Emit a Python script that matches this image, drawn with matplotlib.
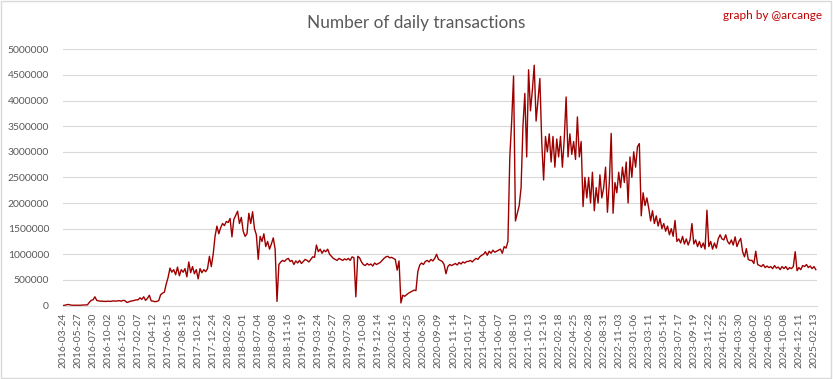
import numpy as np
import matplotlib
matplotlib.use("Agg")
from matplotlib import pyplot as plt
from matplotlib.patches import Rectangle

plt.rcParams['font.family'] = ['Lato', 'DejaVu Sans']

# x axis labels, one every 64 days (Excel category axis)
tick_labels = [
    "2016-03-24", "2016-05-27", "2016-07-30", "2016-10-02", "2016-12-05",
    "2017-02-07", "2017-04-12", "2017-06-15", "2017-08-18", "2017-10-21",
    "2017-12-24", "2018-02-26", "2018-05-01", "2018-07-04", "2018-09-08",
    "2018-11-16", "2019-01-19", "2019-03-24", "2019-05-27", "2019-07-30",
    "2019-10-08", "2019-12-14", "2020-02-16", "2020-04-25", "2020-06-30",
    "2020-09-09", "2020-11-14", "2021-01-17", "2021-04-04", "2021-06-07",
    "2021-08-10", "2021-10-13", "2021-12-16", "2022-02-18", "2022-04-25",
    "2022-06-28", "2022-08-31", "2022-11-03", "2023-01-06", "2023-03-11",
    "2023-05-14", "2023-07-17", "2023-09-19", "2023-11-22", "2024-01-25",
    "2024-03-30", "2024-06-02", "2024-08-05", "2024-10-08", "2024-12-11",
    "2025-02-13",
]
days_per_label = 64
n_days = 3213

# daily transactions (thousands), every 8 days
sample_step = 8
tx_k = [
    0, 5, 15, 20, 10, 5, 5, 5,                          # 2016-03-24
    5, 5, 8, 10, 10, 12, 60, 100,                       # 2016-05-27
    110, 170, 100, 90, 85, 85, 80, 80,                  # 2016-07-30
    85, 80, 85, 90, 85, 90, 95, 85,                     # 2016-10-02
    100, 95, 60, 70, 85, 90, 100, 110,                  # 2016-12-05
    110, 150, 120, 170, 100, 140, 200, 90,              # 2017-02-07
    85, 75, 80, 95, 210, 240, 260, 420,                 # 2017-04-12
    550, 730, 650, 700, 600, 750, 580, 700,             # 2017-06-15
    650, 720, 560, 850, 640, 760, 620, 700,             # 2017-08-18
    520, 720, 640, 700, 660, 720, 960, 760,             # 2017-10-21
    1000, 1350, 1550, 1400, 1520, 1600, 1560, 1640,     # 2017-12-24
    1620, 1700, 1340, 1680, 1760, 1840, 1600, 1720,     # 2018-02-26
    1450, 1350, 1400, 1800, 1600, 1830, 1500, 1380,     # 2018-05-01
    900, 1350, 1250, 1400, 1150, 1250, 1100, 1200,      # 2018-07-04
    1320, 1100, 80, 800, 850, 880, 860, 900,            # 2018-09-08
    920, 860, 880, 800, 870, 830, 880, 820,             # 2018-11-16
    860, 900, 880, 850, 900, 950, 940, 1180,            # 2019-01-19
    1050, 1100, 1020, 1080, 1050, 1100, 1000, 960,      # 2019-03-24
    920, 900, 880, 920, 900, 880, 910, 890,             # 2019-05-27
    920, 880, 950, 930, 170, 960, 930, 850,             # 2019-07-30
    800, 780, 820, 790, 810, 770, 830, 800,             # 2019-10-08
    820, 840, 880, 920, 950, 960, 930, 940,             # 2019-12-14
    920, 900, 690, 870, 50, 200, 180, 210,              # 2020-02-16
    240, 260, 280, 300, 290, 660, 790, 830,             # 2020-04-25
    800, 860, 880, 850, 900, 870, 920, 1000,            # 2020-06-30
    900, 880, 860, 800, 620, 760, 800, 780,             # 2020-09-09
    800, 820, 790, 840, 810, 850, 830, 860,             # 2020-11-14
    860, 880, 850, 890, 920, 900, 950, 980,             # 2021-01-17
    1000, 1050, 980, 1060, 1020, 1080, 1040, 1060,      # 2021-04-04
    1080, 1100, 1020, 1150, 1120, 1250, 2900, 3600,     # 2021-06-07
    4480, 1650, 1800, 1950, 2300, 3500, 4140, 2900,     # 2021-08-10
    4600, 3800, 4200, 4690, 3600, 4000, 4430, 3200,     # 2021-10-13
    2450, 3300, 3000, 3350, 2800, 3300, 2700, 3250,     # 2021-12-16
    2900, 3300, 2700, 3250, 4070, 2900, 3350, 2950,     # 2022-02-18
    3200, 2850, 3680, 2900, 3200, 1930, 2500, 2100,     # 2022-04-25
    2500, 2000, 2600, 1850, 2300, 2000, 2550, 2100,     # 2022-06-28
    2300, 2700, 1820, 2400, 3360, 1800, 2400, 2200,     # 2022-08-31
    2600, 2300, 2700, 2400, 2800, 2000, 2900, 2500,     # 2022-11-03
    3000, 2700, 3100, 3160, 1750, 2200, 1950, 2100,     # 2023-01-06
    1900, 1650, 1850, 1600, 1750, 1550, 1700, 1500,     # 2023-03-11
    1600, 1450, 1550, 1380, 1500, 1350, 1660, 1250,     # 2023-05-14
    1300, 1220, 1350, 1200, 1300, 1180, 1280, 1600,     # 2023-07-17
    1200, 1280, 1150, 1250, 1130, 1220, 1100, 1860,     # 2023-09-19
    1150, 1250, 1100, 1220, 1120, 1300, 1380, 1300,     # 2023-11-22
    1280, 1380, 1250, 1200, 1280, 1180, 1340, 1150,     # 2024-01-25
    1250, 1310, 1050, 950, 1110, 900, 880, 880,         # 2024-03-30
    820, 1060, 800, 780, 760, 800, 740, 770,            # 2024-06-02
    740, 760, 720, 780, 730, 750, 700, 760,             # 2024-08-05
    720, 760, 700, 740, 720, 760, 1050, 680,            # 2024-10-08
    740, 700, 780, 760, 800, 740, 770, 720,             # 2024-12-11
    760, 700,                                           # 2025-02-13
]

tx = np.array(tx_k) * 1000
day = np.arange(len(tx)) * sample_step

fig = plt.figure(figsize=(8.33, 3.79), dpi=100)
ax = fig.add_axes([0.0756, 0.1939, 0.9052, 0.676])

ax.plot(day, tx, color='#9e0000', lw=1.0)

ax.set_xlim(0, n_days)
ax.set_ylim(0, 5000000)
ax.set_yticks(np.arange(0, 5000001, 500000))
ax.set_yticklabels([str(v) for v in range(0, 5000001, 500000)])
ax.set_xticks(np.arange(len(tick_labels)) * days_per_label)
ax.set_xticklabels(tick_labels, rotation=90)

ax.grid(axis='y', color='#d9d9d9', lw=0.8)
ax.set_axisbelow(True)
for side in ['top', 'right', 'left']:
    ax.spines[side].set_visible(False)
ax.spines['bottom'].set_color('#d9d9d9')
ax.tick_params(axis='both', length=0, labelsize=7.5, labelcolor='#595959')
ax.tick_params(axis='y', pad=10)
ax.tick_params(axis='x', pad=5)

fig.text(0.5, 0.939, "Number of daily transactions", ha='center', va='center',
         fontsize=12.4, color='#595959')
fig.text(0.987, 0.96, "graph by @arcange", ha='right', va='center',
         fontsize=8.5, color='#c00000')

fig.patches.append(Rectangle((0.001, 0.002), 0.997, 0.995, transform=fig.transFigure,
                             fill=False, ec='#d9d9d9', lw=1))

fig.savefig("out.png", dpi=100)
